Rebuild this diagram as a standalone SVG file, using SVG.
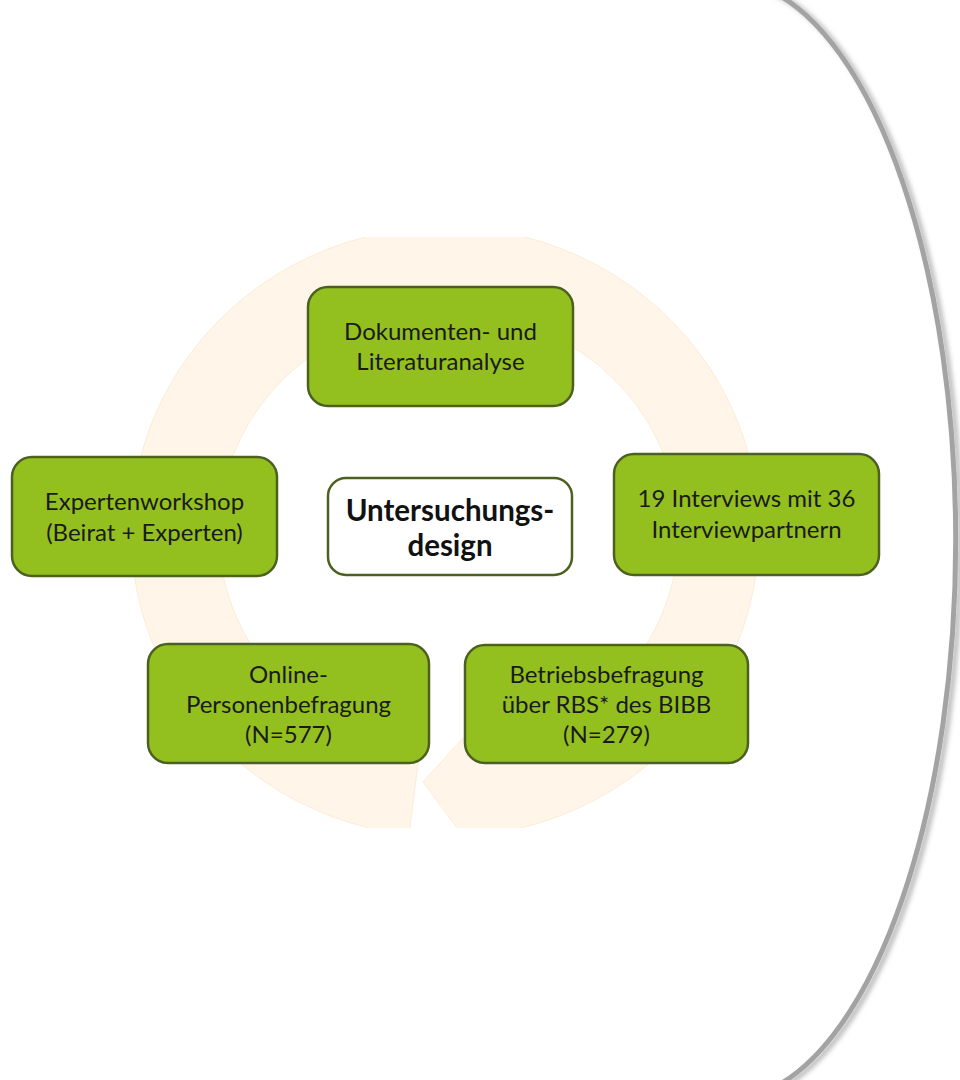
<svg xmlns="http://www.w3.org/2000/svg" width="960" height="1080" viewBox="0 0 960 1080">
<style>
.box{fill:#93c01f;stroke:#4c6120;stroke-width:2.5}
.cbox{fill:#ffffff;stroke:#4c6120;stroke-width:2.5}
.t{font-family:Lato,"Liberation Sans",sans-serif;font-size:24px;fill:#1a1a1a;text-anchor:middle}
.tb{font-family:Lato,"Liberation Sans",sans-serif;font-size:29.5px;font-weight:bold;fill:#111;text-anchor:middle}
</style>
<defs>
<clipPath id="ringclip"><rect x="0" y="237" width="960" height="591"/></clipPath>
<filter id="sh" x="-20%" y="-5%" width="140%" height="110%">
<feDropShadow dx="4" dy="2" stdDeviation="2.5" flood-color="#000" flood-opacity="0.3"/>
</filter>
</defs>
<rect width="960" height="1080" fill="#ffffff"/>
<g id="background-ring" clip-path="url(#ringclip)">
<path d="M409,835 A314 305 0 1 1 481,835 L488,870 L423,782 L463,738 L472,751 A230 220 0 1 0 419.7,750.4 Z" fill="#fff5e8" stroke="#fdecd6" stroke-width="1"/>
</g>
<g id="side-arc">
<path d="M769,-10 A230 560 0 0 1 769,1090" fill="none" stroke="#a3a3a3" stroke-width="5" filter="url(#sh)"/>
</g>
<g id="connectors"></g>
<g id="node-doku">
<rect class="box" x="308" y="287" width="265" height="119" rx="20"/>
<text class="t" x="440.5" y="340">Dokumenten- und</text>
<text class="t" x="440.5" y="370">Literaturanalyse</text>
</g>
<g id="node-workshop">
<rect class="box" x="12" y="457" width="265" height="119" rx="20"/>
<text class="t" x="144.5" y="510">Expertenworkshop</text>
<text class="t" x="144.5" y="541">(Beirat + Experten)</text>
</g>
<g id="node-center">
<rect class="cbox" x="328" y="478" width="244" height="97" rx="18"/>
<text class="tb" x="450" y="521">Untersuchungs-</text>
<text class="tb" x="450" y="556">design</text>
</g>
<g id="node-interviews">
<rect class="box" x="614" y="454" width="265" height="121" rx="20"/>
<text class="t" x="746.5" y="507">19 Interviews mit 36</text>
<text class="t" x="746.5" y="538">Interviewpartnern</text>
</g>
<g id="node-online">
<rect class="box" x="148" y="644" width="281" height="119" rx="20"/>
<text class="t" x="288.5" y="683">Online-</text>
<text class="t" x="288.5" y="713">Personenbefragung</text>
<text class="t" x="288.5" y="743">(N=577)</text>
</g>
<g id="node-betrieb">
<rect class="box" x="465" y="645" width="283" height="118" rx="20"/>
<text class="t" x="606.5" y="683">Betriebsbefragung</text>
<text class="t" x="606.5" y="713">über RBS* des BIBB</text>
<text class="t" x="606.5" y="743">(N=279)</text>
</g>
</svg>
